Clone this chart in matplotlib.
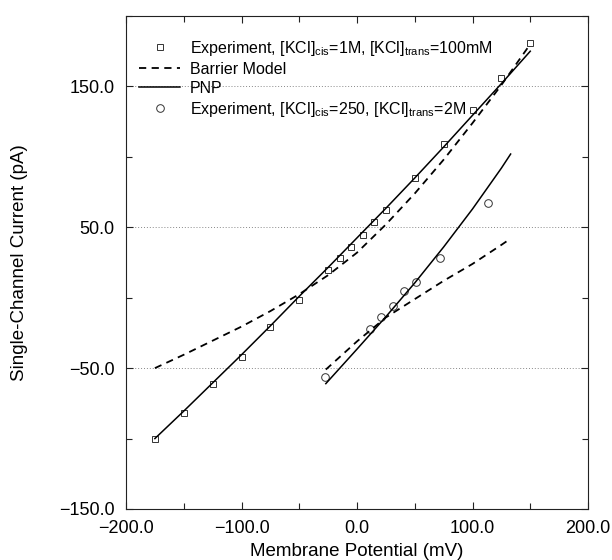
import matplotlib
matplotlib.use("Agg")
import matplotlib.pyplot as plt
from matplotlib.legend_handler import HandlerLine2D
from matplotlib.ticker import FixedLocator, FuncFormatter

plt.rcParams['font.family'] = ['Liberation Sans', 'DejaVu Sans']
plt.rcParams['mathtext.fontset'] = 'custom'
plt.rcParams['mathtext.rm'] = 'Liberation Sans'
plt.rcParams['mathtext.it'] = 'Liberation Sans:italic'

# experiment, [KCl]cis=1M, [KCl]trans=100mM
v_exp1 = [-175, -150, -125, -100, -75, -50, -25, -15, -5, 5, 15, 25, 50, 75, 100, 125, 150]
i_exp1 = [-100, -82, -61, -42, -20.5, -1.5, 20, 28, 36, 44.5, 54, 62, 85, 109, 133, 156, 181]

# experiment, [KCl]cis=250, [KCl]trans=2M
v_exp2 = [-28, 11, 21, 31, 41, 51, 72, 113]
i_exp2 = [-56, -22, -14, -6, 4.5, 11, 28, 67]

# model curves
v_fit1 = [-175, -150, -125, -100, -75, -50, -25, 0, 25, 50, 75, 100, 125, 150]
pnp1 = [-100, -80.5, -60.5, -40.5, -20, 1, 21.5, 42.5, 63.5, 85, 107, 129.5, 152, 175]
barrier1 = [-50, -40.5, -30.5, -20.5, -9.5, 2.5, 16, 32, 52, 74, 98, 124, 151, 180]

v_fit2 = [-27, 0, 25, 50, 75, 100, 125, 133]
pnp2 = [-61, -36.5, -13.5, 10.5, 36, 63, 92, 102]
barrier2 = [-51, -31, -14, -1, 12, 24, 37.5, 42]

x_major = [-200, -100, 0, 100, 200]
x_minor = [-150, -50, 50, 150]
y_major = [-150, -50, 50, 150]
y_minor = [-100, 0, 100, 200]


class RightMarker(HandlerLine2D):
    # put the marker at the right end of the handle, like the original
    def get_xdata(self, legend, xdescent, ydescent, width, height, fontsize):
        return [-xdescent, -xdescent + width], [-xdescent + width - 0.1 * fontsize]


def fmt(v, pos):
    return ('%.1f' % v).replace('-', '\u2212')


fig = plt.figure(figsize=(6.12, 5.6), dpi=100)
ax = fig.add_axes([0.2059, 0.0911, 0.7549, 0.8803])

mk = dict(linestyle='none', mfc='none', mec='#333333', mew=0.7)
sq, = ax.plot(v_exp1, i_exp1, marker='s', ms=4.8,
              label=r'Experiment, [KCl]$_{\mathrm{cis}}$=1M, [KCl]$_{\mathrm{trans}}$=100mM', **mk)
bm, = ax.plot(v_fit1, barrier1, color='black', lw=1.3, linestyle=(0, (4, 3)), label='Barrier Model')
pn, = ax.plot(v_fit1, pnp1, color='black', lw=1.1, label='PNP')
ci, = ax.plot(v_exp2, i_exp2, marker='o', ms=5.5,
              label=r'Experiment, [KCl]$_{\mathrm{cis}}$=250, [KCl]$_{\mathrm{trans}}$=2M', **mk)
ax.plot(v_fit2, barrier2, color='black', lw=1.3, linestyle=(0, (4, 3)))
ax.plot(v_fit2, pnp2, color='black', lw=1.1)

ax.set_xlim(-200, 200)
ax.set_ylim(-150, 200)
ax.xaxis.set_major_locator(FixedLocator(x_major))
ax.xaxis.set_minor_locator(FixedLocator(x_minor))
ax.yaxis.set_major_locator(FixedLocator(y_major))
ax.yaxis.set_minor_locator(FixedLocator(y_minor))
ax.xaxis.set_major_formatter(FuncFormatter(fmt))
ax.yaxis.set_major_formatter(FuncFormatter(fmt))
ax.tick_params(which='both', direction='in', top=True, right=True, width=0.8, color='#222222')
ax.tick_params(which='major', length=5, labelsize=13, pad=8)
ax.tick_params(which='minor', length=4)
ax.grid(axis='y', which='major', linestyle=(0, (1, 2)), color='#888888', linewidth=0.7)
for s in ax.spines.values():
    s.set_linewidth(0.8)
    s.set_color('#222222')

ax.set_xlabel('Membrane Potential (mV)', fontsize=13.5)
ax.set_ylabel('Single-Channel Current (pA)', fontsize=13.5)
ax.xaxis.set_label_coords(0.5, -0.068)
ax.yaxis.set_label_coords(-0.213, 0.5)

ax.legend(handles=[sq, bm, pn, ci], loc='upper left', bbox_to_anchor=(0.029, 0.954),
          frameon=False, fontsize=11.5, handlelength=2.56, handletextpad=0.62,
          labelspacing=0.25, borderpad=0, borderaxespad=0,
          handler_map={sq: RightMarker(), ci: RightMarker()})

fig.savefig('out.png', dpi=100)
